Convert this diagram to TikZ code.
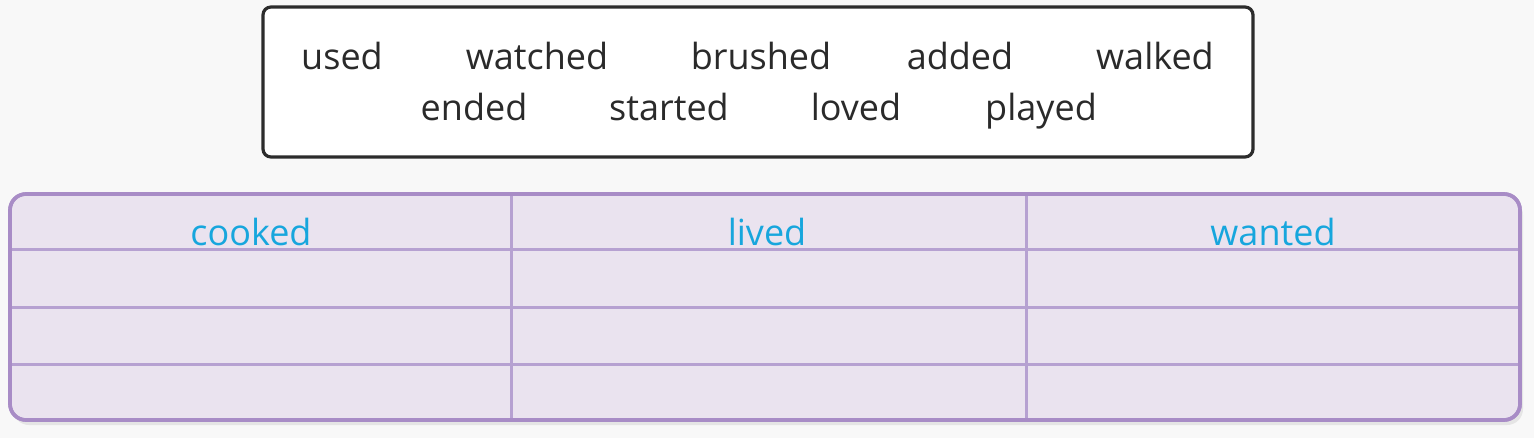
\documentclass[tikz,border=0pt]{standalone}
\usepackage{fontspec}
\setmainfont{Open Sans}
\usepackage{tikz}
\usetikzlibrary{positioning}

\definecolor{pagebg}{HTML}{F8F8F8}
\definecolor{bankline}{HTML}{2C2C2C}
\definecolor{wordgray}{HTML}{2A2A2A}
\definecolor{tablefill}{HTML}{EAE3EF}
\definecolor{tableline}{HTML}{A88CC6}
\definecolor{gridline}{HTML}{B6A1D1}
\definecolor{headblue}{HTML}{17A6DD}

\begin{document}
\begin{tikzpicture}[x=0.5pt,y=-0.5pt,
 word/.style={font=\fontsize{18}{22}\selectfont,text=wordgray,inner sep=0pt,anchor=base},
 head/.style={word,text=headblue},
 bank box/.style={draw=bankline,line width=1.6pt,fill=white,rounded corners=4pt,
   minimum width=495pt,minimum height=75pt,inner sep=0pt},
 table box/.style={draw=tableline,line width=1.8pt,fill=tablefill,rounded corners=8pt,
   minimum width=755pt,minimum height=113pt,inner sep=0pt},
 grid line/.style={draw=gridline,line width=1.5pt}]

  \fill[pagebg] (0,0) rectangle (1534,438);
  \useasboundingbox (0,0) rectangle (1534,438);

  % word bank
  \node[bank box] (bank) at (758,82) {};
  \foreach \w/\x/\y in {used/342/70, watched/537/70, brushed/761/70,
    added/960/70, walked/1155/70, ended/474/121, started/669/121,
    loved/856/121, played/1041/121} {
   \node[word] (\w) at (\x,\y) {\w};}

  % table
  \fill[black!10,rounded corners=8pt] (13,199) rectangle (1523,425);
  \node[table box] (tbl) at (765,307) {};
  \foreach \y in {249,307,364} {
   \draw[grid line] (11,\y) -- (1519,\y);}
  \foreach \x in {511,1026} {
   \draw[grid line] (\x,195) -- (\x,419);}
  \draw[draw=tableline,line width=1.8pt,rounded corners=8pt] (10,194) rectangle (1520,420);

  \foreach \w/\x in {cooked/251, lived/767, wanted/1273} {
   \node[head] (h-\w) at (\x,245) {\w};}

\end{tikzpicture}
\end{document}
